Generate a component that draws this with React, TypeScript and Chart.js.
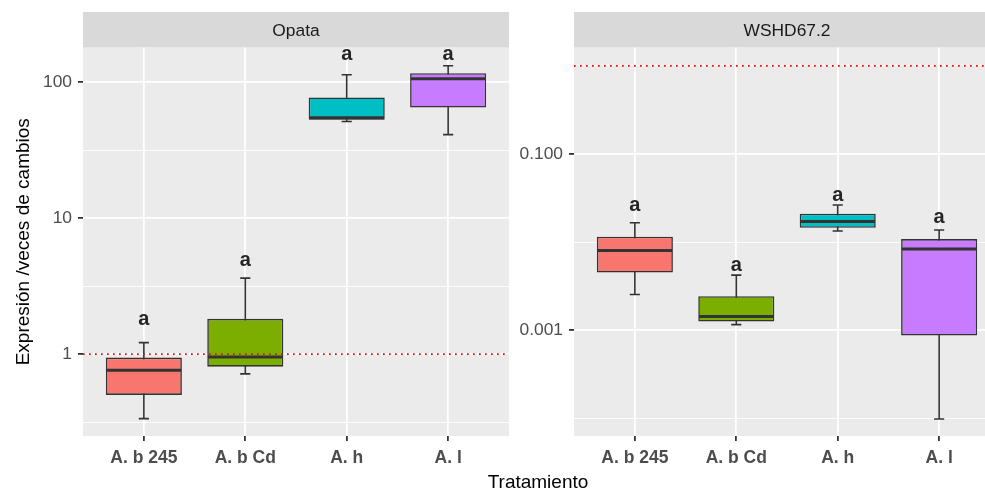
import React, { useEffect, useRef } from 'react';
import { Chart, registerables } from 'chart.js';

Chart.register(...registerables);

// ---------- data ----------
const categories = ['A. b 245', 'A. b Cd', 'A. h', 'A. l'];
const fillColors = ['#F8766D', '#7CAE00', '#00BFC4', '#C77CFF'];
const letters = ['a', 'a', 'a', 'a'];

// Panel "Opata"
const opataWhiskerLow = [0.336, 0.716, 51.4, 41.2];
const opataQ1 = [0.502, 0.81, 52.9, 65.1];
const opataMedian = [0.762, 0.955, 54.7, 105.9];
const opataQ3 = [0.944, 1.82, 77.2, 116.5];
const opataWhiskerHigh = [1.217, 3.628, 113.4, 132.1];
const opataLetterY = [1.789, 4.84, 158.6, 158.6];
const opataMajorTicks = [1, 10, 100];
const opataMajorLabels = ['1', '10', '100'];
const opataMinorTicks = [0.3162, 3.162, 31.62];
const opataRange = [0.2502, 180.1];

// Panel "WSHD67.2"
const wshdWhiskerLow = [0.002538, 0.001158, 0.01334, 0.0000982];
const wshdQ1 = [0.00451, 0.001252, 0.01454, 0.000868];
const wshdMedian = [0.00803, 0.001427, 0.01715, 0.00833];
const wshdQ3 = [0.01149, 0.002434, 0.02097, 0.01082];
const wshdWhiskerHigh = [0.01657, 0.004217, 0.02633, 0.01369];
const wshdLetterY = [0.02572, 0.00541, 0.03376, 0.01875];
const wshdMajorTicks = [0.001, 0.1];
const wshdMajorLabels = ['0.001', '0.100'];
const wshdMinorTicks = [0.0001, 0.01, 1];
const wshdRange = [0.000063, 1.615];

const referenceValue = 1;

// ---------- styling ----------
const FONT = '"Liberation Sans", Arial, sans-serif';
const INK = '#333333';
const X_MIN = 0.4;
const X_MAX_FULL = 4.6;

const same = (a: number, b: number) => Math.abs(Math.log10(a) - Math.log10(b)) < 1e-4;

function halfWidth(chart: any, units: number) {
  const x = chart.scales.x;
  return Math.abs(x.getPixelForValue(1 + units) - x.getPixelForValue(1));
}

function makeDecor(title: string, letterY: number[]) {
  return {
    id: 'panelDecor',
    beforeDraw(chart: any) {
      const { ctx, chartArea: a } = chart;
      const stripTop = 12;
      ctx.save();
      ctx.fillStyle = '#EBEBEB';
      ctx.fillRect(a.left, a.top, a.right - a.left, a.bottom - a.top);
      ctx.fillStyle = '#D9D9D9';
      ctx.fillRect(a.left, stripTop, a.right - a.left, a.top - stripTop);
      ctx.fillStyle = '#1A1A1A';
      ctx.font = `17.4px ${FONT}`;
      ctx.textAlign = 'center';
      ctx.textBaseline = 'middle';
      const cx = chart.scales.x.getPixelForValue((X_MIN + X_MAX_FULL) / 2);
      ctx.fillText(title, cx, (stripTop + a.top) / 2 + 1);
      ctx.restore();
    },
    afterDatasetsDraw(chart: any) {
      const { ctx } = chart;
      const sx = chart.scales.x;
      const sy = chart.scales.y;
      const size = 20;
      ctx.save();
      ctx.fillStyle = '#262626';
      ctx.font = `bold ${size}px "Liberation Sans Narrow", ${FONT}`;
      ctx.textAlign = 'center';
      ctx.textBaseline = 'alphabetic';
      letters.forEach((t, i) => {
        ctx.fillText(t, sx.getPixelForValue(i + 1), sy.getPixelForValue(letterY[i]) + size * 0.26);
      });
      ctx.restore();
    },
  };
}

function makeConfig(p: {
  title: string;
  low: number[]; q1: number[]; med: number[]; q3: number[]; high: number[];
  letterY: number[];
  majors: number[]; majorLabels: string[]; minors: number[];
  range: number[];
  xMax: number;
  yWidth: number;
  yTitle: string | null;
}) {
  const allTicks = [...p.majors, ...p.minors].sort((a, b) => a - b);
  const isMajor = (v: number) => p.majors.some((m) => same(m, v));
  const boxes = categories.map((_, i) => ({ x: i + 1, y: [p.q1[i], p.q3[i]] }));
  const whiskers = categories.map((_, i) => ({ x: i + 1, y: [p.low[i], p.high[i]] }));
  const medians = categories.map((_, i) => ({ x: i + 1, y: p.med[i] }));
  const caps = [
    ...categories.map((_, i) => ({ x: i + 1, y: p.high[i] })),
    ...categories.map((_, i) => ({ x: i + 1, y: p.low[i] })),
  ];
  return {
    type: 'bar',
    data: {
      datasets: [
        {
          type: 'line',
          label: 'reference',
          data: [
            { x: X_MIN, y: referenceValue },
            { x: X_MAX_FULL, y: referenceValue },
          ],
          borderColor: '#FF0000',
          borderWidth: 1.7,
          borderDash: [1.7, 4.3],
          pointRadius: 0,
          order: 0,
        },
        {
          type: 'line',
          label: 'caps',
          data: caps,
          showLine: false,
          pointStyle: 'line',
          pointRadius: (c: any) => halfWidth(c.chart, 0.05),
          pointBorderColor: INK,
          pointBorderWidth: 1.6,
          pointBackgroundColor: INK,
          order: 1,
        },
        {
          type: 'line',
          label: 'median',
          data: medians,
          showLine: false,
          pointStyle: 'line',
          pointRadius: (c: any) => halfWidth(c.chart, 0.375) - 0.8,
          pointBorderColor: INK,
          pointBorderWidth: 3,
          pointBackgroundColor: INK,
          order: 2,
        },
        {
          type: 'bar',
          label: 'box',
          data: boxes,
          backgroundColor: fillColors,
          borderColor: INK,
          borderWidth: 1.6,
          borderSkipped: false,
          barPercentage: 0.75,
          categoryPercentage: 1,
          grouped: false,
          order: 3,
        },
        {
          type: 'bar',
          label: 'whisker',
          data: whiskers,
          backgroundColor: INK,
          borderWidth: 0,
          barPercentage: 0.5,
          categoryPercentage: 1,
          maxBarThickness: 1.6,
          grouped: false,
          order: 4,
        },
      ],
    },
    options: {
      animation: false,
      responsive: false,
      events: [],
      layout: { padding: { top: 47.5, left: 0, right: 0, bottom: 0 } },
      plugins: { legend: { display: false }, tooltip: { enabled: false } },
      scales: {
        x: {
          type: 'linear',
          offset: false,
          min: X_MIN,
          max: p.xMax,
          afterBuildTicks: (s: any) => {
            s.ticks = categories.map((_, i) => ({ value: i + 1 }));
          },
          afterFit: (s: any) => {
            s.height = 495 - 436;
          },
          ticks: {
            autoSkip: false,
            maxRotation: 0,
            padding: 7,
            color: '#4D4D4D',
            font: { family: FONT, size: 17.5, weight: 'bold' },
            callback: (v: number) => categories[Math.round(v) - 1] ?? '',
          },
          grid: {
            offset: false,
            color: '#FFFFFF',
            lineWidth: 1.8,
            drawTicks: true,
            tickLength: 5,
            tickColor: INK,
            tickWidth: 1.8,
          },
          border: { display: false },
        },
        y: {
          type: 'logarithmic',
          min: p.range[0],
          max: p.range[1],
          afterBuildTicks: (s: any) => {
            s.ticks = allTicks.map((v) => ({ value: v }));
          },
          afterFit: (s: any) => {
            s.width = p.yWidth;
          },
          ticks: {
            autoSkip: false,
            padding: 6,
            color: '#4D4D4D',
            font: { family: FONT, size: 17.4 },
            callback: (v: number) => {
              const k = p.majors.findIndex((m) => same(m, v));
              return k >= 0 ? p.majorLabels[k] : '';
            },
          },
          grid: {
            color: '#FFFFFF',
            lineWidth: (c: any) => (c.tick && isMajor(c.tick.value) ? 1.8 : 0.9),
            drawTicks: true,
            tickLength: 5,
            tickColor: (c: any) => (c.tick && isMajor(c.tick.value) ? INK : 'rgba(0,0,0,0)'),
            tickWidth: 1.8,
          },
          border: { display: false },
          title: p.yTitle
            ? {
                display: true,
                text: p.yTitle,
                color: '#000000',
                font: { family: FONT, size: 19, lineHeight: 1.2 },
                padding: { top: 12.6, bottom: 0 },
              }
            : { display: false },
        },
      },
    },
    plugins: [makeDecor(p.title, p.letterY)],
  };
}

function Panel({ left, width, config }: { left: number; width: number; config: any }) {
  const ref = useRef<HTMLCanvasElement | null>(null);
  useEffect(() => {
    if (!ref.current) return;
    const chart = new Chart(ref.current, config);
    return () => chart.destroy();
  }, []);
  return (
    <canvas
      ref={ref}
      width={width}
      height={495}
      style={{ position: 'absolute', left, top: 0, width, height: 495 }}
    />
  );
}

export default function App() {
  const leftConfig = makeConfig({
    title: 'Opata',
    low: opataWhiskerLow,
    q1: opataQ1,
    med: opataMedian,
    q3: opataQ3,
    high: opataWhiskerHigh,
    letterY: opataLetterY,
    majors: opataMajorTicks,
    majorLabels: opataMajorLabels,
    minors: opataMinorTicks,
    range: opataRange,
    xMax: X_MAX_FULL,
    yWidth: 83,
    yTitle: 'Expresión /veces de cambios',
  });
  const rightConfig = makeConfig({
    title: 'WSHD67.2',
    low: wshdWhiskerLow,
    q1: wshdQ1,
    med: wshdMedian,
    q3: wshdQ3,
    high: wshdWhiskerHigh,
    letterY: wshdLetterY,
    majors: wshdMajorTicks,
    majorLabels: wshdMajorLabels,
    minors: wshdMinorTicks,
    range: wshdRange,
    xMax: X_MIN + (X_MAX_FULL - X_MIN) * (411 / 426),
    yWidth: 65,
    yTitle: null,
  });
  return (
    <div
      style={{
        position: 'absolute',
        left: 0,
        top: 0,
        width: 985,
        height: 495,
        background: '#FFFFFF',
        overflow: 'hidden',
      }}
    >
      <Panel left={0} width={509} config={leftConfig} />
      <Panel left={509} width={476} config={rightConfig} />
      <div
        style={{
          position: 'absolute',
          left: 438,
          width: 200,
          top: 470,
          textAlign: 'center',
          fontFamily: FONT,
          fontSize: 19,
          lineHeight: '24px',
          color: '#000000',
        }}
      >
        Tratamiento
      </div>
    </div>
  );
}
